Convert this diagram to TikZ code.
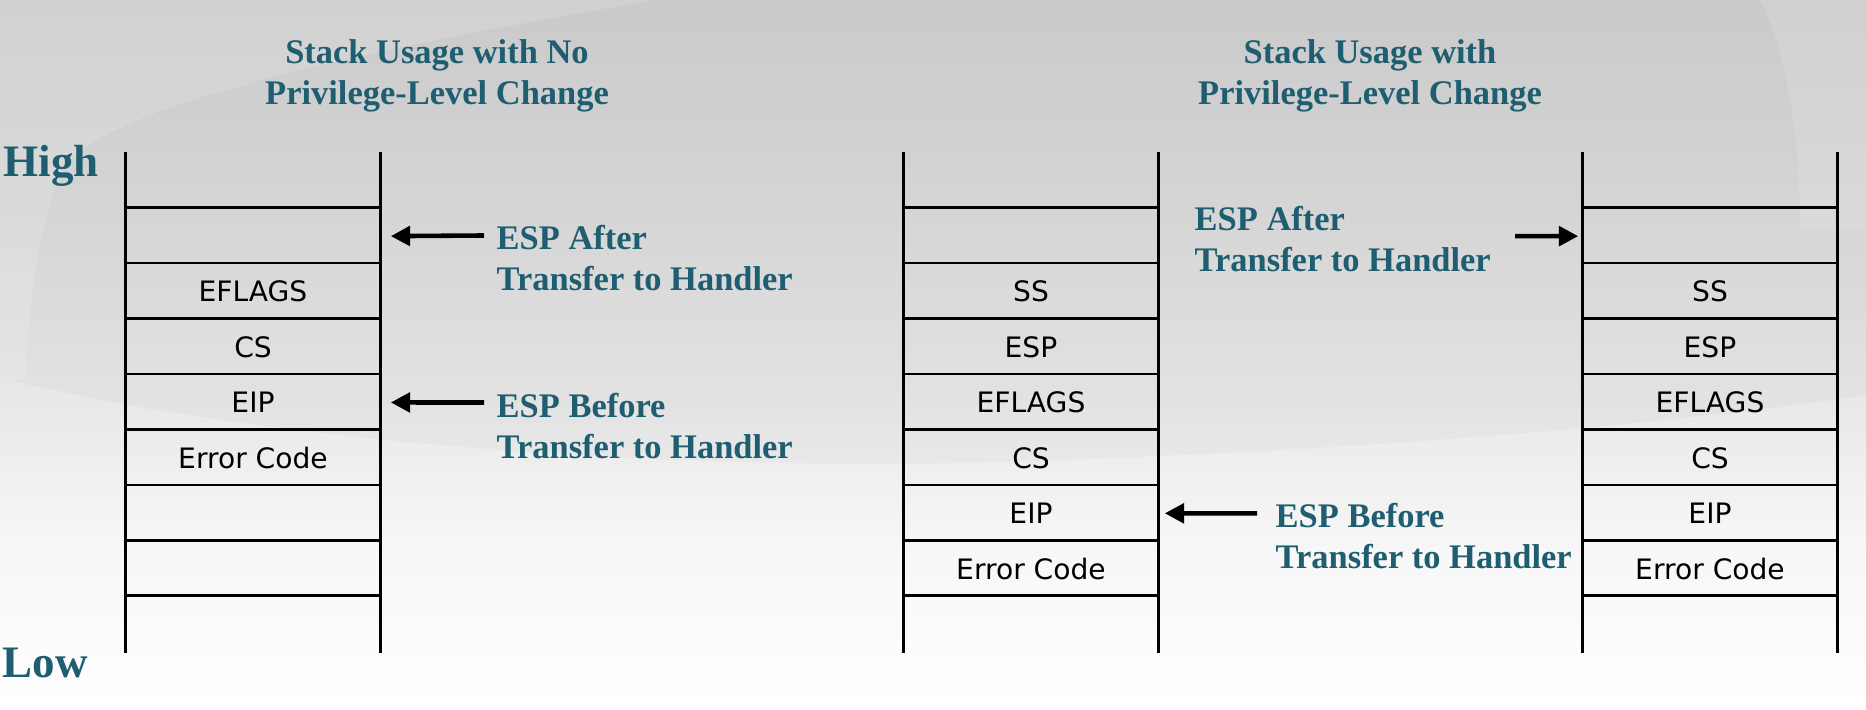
\documentclass[tikz,border=0pt]{standalone}
\usepackage{fontspec}
\setmainfont{Liberation Serif}
\newfontfamily\cellfont{DejaVu Sans}
\usetikzlibrary{arrows.meta}
\definecolor{tealc}{RGB}{30,94,112}
\pgfdeclareverticalshading{bgshade}{100bp}{color(0bp)=(white); color(25bp)=(white); color(36bp)=(black!3); color(47bp)=(black!9); color(60bp)=(black!14); color(75bp)=(black!19); color(100bp)=(black!19)}
\tikzset{
  stackline/.style={line width=0.75pt, black},
  cell/.style={minimum width=2.54cm, minimum height=0.5544cm, inner sep=0pt, font=\cellfont\fontsize{8}{9.6}\selectfont},
  ttl/.style={text=tealc, font=\bfseries\fontsize{9.8}{11.7}\selectfont, align=center},
  note/.style={text=tealc, font=\bfseries\fontsize{9.8}{11.7}\selectfont, align=left, anchor=west, inner sep=0pt},
  side/.style={text=tealc, font=\bfseries\fontsize{12.8}{15}\selectfont, anchor=base west, inner sep=0pt},
  arr/.style={line width=1.3pt, -{Triangle[length=5.5pt,width=5.5pt]}},
}
\begin{document}
\begin{tikzpicture}[x=0.01cm,y=-0.01cm]
\shade[shading=bgshade] (0,0) rectangle (1866,710);
\useasboundingbox (0,0) rectangle (1866,710);
% background swooshes
\fill[black, opacity=0.022] (0,0) -- (0,378) .. controls (300,450) and (700,470) .. (1000,462)
   .. controls (1400,450) and (1700,420) .. (1866,395) -- (1866,0) -- cycle;
\fill[white, opacity=0.14] (0,0) -- (655,0) .. controls (300,60) and (120,110) .. (70,160)
   .. controls (40,200) and (30,300) .. (25,380) -- (0,380) -- cycle;
\fill[white, opacity=0.12] (1760,0) .. controls (1790,60) and (1800,150) .. (1800,230) -- (1866,230) -- (1866,0) -- cycle;
% titles
\node[ttl] (t1) at (437,76) {Stack Usage with No\\Privilege-Level Change};
\node[ttl] (t2) at (1370,76) {Stack Usage with\\Privilege-Level Change};
\node[side] (high) at (3,177) {High};
\node[side] (low) at (2,678) {Low};
% left stack
\foreach \i/\t in {0/{},1/{},2/EFLAGS,3/CS,4/EIP,5/Error Code,6/{},7/{},8/{}}
  \node[cell] (L\i) at (253,{180.7+55.44*\i}) {\t};
% middle stack
\foreach \i/\t in {0/{},1/{},2/SS,3/ESP,4/EFLAGS,5/CS,6/EIP,7/Error Code,8/{}}
  \node[cell] (M\i) at (1031,{180.7+55.44*\i}) {\t};
% right stack
\foreach \i/\t in {0/{},1/{},2/SS,3/ESP,4/EFLAGS,5/CS,6/EIP,7/Error Code,8/{}}
  \node[cell] (R\i) at (1710,{180.7+55.44*\i}) {\t};
\foreach \s in {L,M,R}{
  \draw[stackline] (\s0.north west) -- (\s8.south west);
  \draw[stackline] (\s0.north east) -- (\s8.south east);
  \foreach \i in {1,...,8}
    \draw[stackline] (\s\i.north west) -- (\s\i.north east);
}
% notes
\node[note] (la) at (496,258) {ESP After\\Transfer to Handler};
\node[note] (lb) at (496,426) {ESP Before\\Transfer to Handler};
\node[note] (ma) at (1194,239) {ESP After\\Transfer to Handler};
\node[note] (mb) at (1275,536) {ESP Before\\Transfer to Handler};
% arrows
\coordinate (laT) at (484,235.5);
\coordinate (lbT) at (484,402.5);
\coordinate (mbT) at (1257,513.4);
\coordinate (maT) at (1515,236.2);
\draw[arr] (laT) -- ([xshift=0.1cm]L1.east);
\draw[arr] (lbT) -- ([xshift=0.1cm]L4.east);
\draw[arr] (mbT) -- ([xshift=0.06cm]M6.east);
\draw[arr] (maT) -- ([xshift=-0.04cm]R1.west);
\end{tikzpicture}
\end{document}
